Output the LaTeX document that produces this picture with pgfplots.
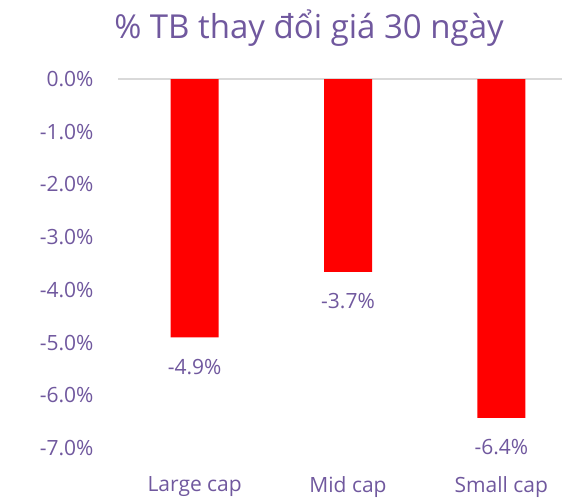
\documentclass[border=0pt]{standalone}
\usepackage{pgfplots}
\pgfplotsset{compat=1.18}
\usepackage{fontspec}
\setmainfont{Open Sans}
\definecolor{txt}{RGB}{112,88,158}
\definecolor{barred}{RGB}{255,0,0}
\definecolor{gridc}{RGB}{217,217,217}

\begin{document}
\begin{tikzpicture}[x=1pt,y=1pt]
\useasboundingbox (0,0) rectangle (562,500);
\begin{axis}[
    at={(118pt,52pt)}, anchor=south west,
    scale only axis,
    width=460pt, height=369pt,
    ybar,
    bar width=48pt,
    xmin=-0.5, xmax=2.5,
    ymin=-7, ymax=0,
    axis line style={draw=none},
    major tick length=0pt,
    xtick=data,
    xticklabels={Large cap, Mid cap, Small cap},
    ytick={-7,-6,-5,-4,-3,-2,-1,0},
    yticklabels={-7.0\%,-6.0\%,-5.0\%,-4.0\%,-3.0\%,-2.0\%,-1.0\%,0.0\%},
    tick label style={font=\fontsize{21}{25}\selectfont, text=txt},
    yticklabel style={xshift=-21pt},
    xticklabel style={yshift=-25pt},
    extra y ticks={0},
    extra y tick labels={},
    extra y tick style={ymajorgrids=true, major grid style={draw=gridc, line width=1.6pt}},
    clip=false,
    point meta=explicit symbolic,
    nodes near coords,
    every node near coord/.append style={font=\fontsize{21}{25}\selectfont, text=txt, anchor=north, yshift=-18pt},
]
\addplot[fill=barred, draw=none] coordinates {
    (0,-4.9)  [-4.9\%]
    (1,-3.66) [-3.7\%]
    (2,-6.43) [-6.4\%]
};
\end{axis}
\node[text=txt, font=\fontsize{33}{38}\selectfont] at (309,472) {\% TB thay đổi giá 30 ngày};
\end{tikzpicture}
\end{document}
